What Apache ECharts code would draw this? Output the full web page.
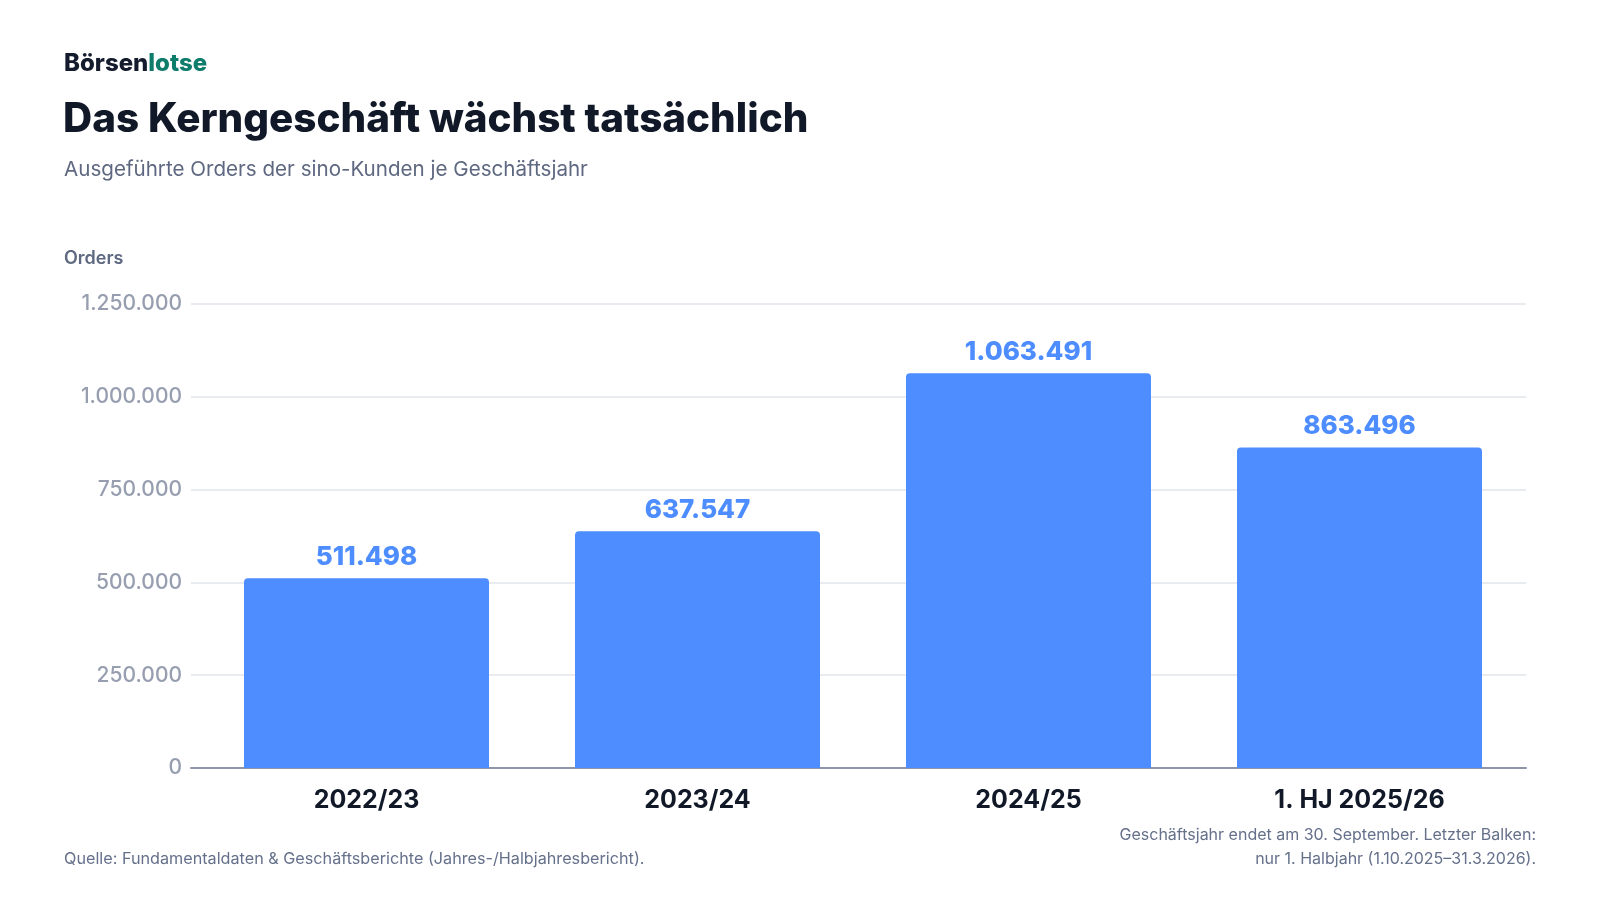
<!DOCTYPE html>
<html>
<head>
<meta charset="utf-8">
<script src="https://cdn.jsdelivr.net/npm/echarts@6/dist/echarts.min.js"></script>
<style>
html,body{margin:0;padding:0;background:#fff;}
#chart{width:1600px;height:900px;}
</style>
</head>
<body>
<div id="chart"></div>
<script>
const categories = ['2022/23', '2023/24', '2024/25', '1. HJ 2025/26'];
const orders = [511498, 637547, 1063491, 863496];
const yTicks = [0, 250000, 500000, 750000, 1000000, 1250000];

const titleText = 'Das Kerngeschäft wächst tatsächlich';
const subtitleText = 'Ausgeführte Orders der sino-Kunden je Geschäftsjahr';
const axisName = 'Orders';
const sourceText = 'Quelle: Fundamentaldaten & Geschäftsberichte (Jahres-/Halbjahresbericht).';
const noteLines = ['Geschäftsjahr endet am 30. September. Letzter Balken:', 'nur 1. Halbjahr (1.10.2025–31.3.2026).'];

function de(v) {
  return String(Math.round(v)).replace(/\B(?=(\d{3})+(?!\d))/g, '.');
}

const FONT = 'Inter, "Noto Sans", sans-serif';
const yMin = yTicks[0], yMax = yTicks[yTicks.length - 1], yStep = yTicks[1] - yTicks[0];

const chart = echarts.init(document.getElementById('chart'));
chart.setOption({
  backgroundColor: '#ffffff',
  animation: false,
  textStyle: { fontFamily: FONT },
  grid: [
    { left: 191, right: 74, top: 304, bottom: 132 },
    { left: 201, right: 75, top: 304, bottom: 132 }
  ],
  xAxis: [
    {
      gridIndex: 0, type: 'category', data: categories,
      axisLine: { show: true, lineStyle: { color: '#8d95a8', width: 2 } },
      axisTick: { show: false }, axisLabel: { show: false }, splitLine: { show: false }
    },
    {
      gridIndex: 1, type: 'category', data: categories,
      axisLine: { show: false }, axisTick: { show: false },
      axisLabel: { color: '#111827', fontSize: 25, fontWeight: 700, fontFamily: FONT, margin: 20 }
    }
  ],
  yAxis: [
    {
      gridIndex: 0, type: 'value', min: yMin, max: yMax, interval: yStep,
      axisLine: { show: false }, axisTick: { show: false },
      axisLabel: { color: '#979eb0', fontSize: 21, fontWeight: 500, fontFamily: FONT, margin: 9, formatter: de },
      splitLine: { show: true, lineStyle: { color: '#e8ebf0', width: 2 } }
    },
    {
      gridIndex: 1, type: 'value', min: yMin, max: yMax, interval: yStep, show: false,
      splitLine: { show: false }
    }
  ],
  series: [{
    type: 'bar', xAxisIndex: 1, yAxisIndex: 1, data: orders, barWidth: 245,
    itemStyle: { color: '#4d8dff', borderRadius: [4, 4, 0, 0] },
    label: {
      show: true, position: 'top', distance: 8, color: '#4d8dff',
      fontSize: 26, fontWeight: 800, fontFamily: FONT,
      formatter: p => de(p.value)
    }
  }],
  graphic: [
    { type: 'text', x: 64, y: 64, style: {
      text: '{a|Börsen}{b|lotse}', verticalAlign: 'middle',
      rich: {
        a: { fill: '#141b2d', font: '800 24px ' + FONT },
        b: { fill: '#0e7c6b', font: '800 24px ' + FONT }
      }
    } },
    { type: 'text', x: 63, y: 120, style: { text: titleText, fill: '#111827', font: '800 40.4px ' + FONT, verticalAlign: 'middle' } },
    { type: 'text', x: 64, y: 170, style: { text: subtitleText, fill: '#5e6880', font: '400 20.6px ' + FONT, verticalAlign: 'middle' } },
    { type: 'text', x: 64, y: 259, style: { text: axisName, fill: '#5e6880', font: '600 18px ' + FONT, verticalAlign: 'middle' } },
    { type: 'text', x: 64, y: 859, style: { text: sourceText, fill: '#65708a', font: '400 16.2px ' + FONT, verticalAlign: 'middle' } },
    { type: 'text', x: 1536, y: 835, style: { text: noteLines[0], fill: '#65708a', font: '400 16px ' + FONT, align: 'right', verticalAlign: 'middle' } },
    { type: 'text', x: 1536, y: 859, style: { text: noteLines[1], fill: '#65708a', font: '400 16px ' + FONT, align: 'right', verticalAlign: 'middle' } }
  ]
});
</script>
</body>
</html>
